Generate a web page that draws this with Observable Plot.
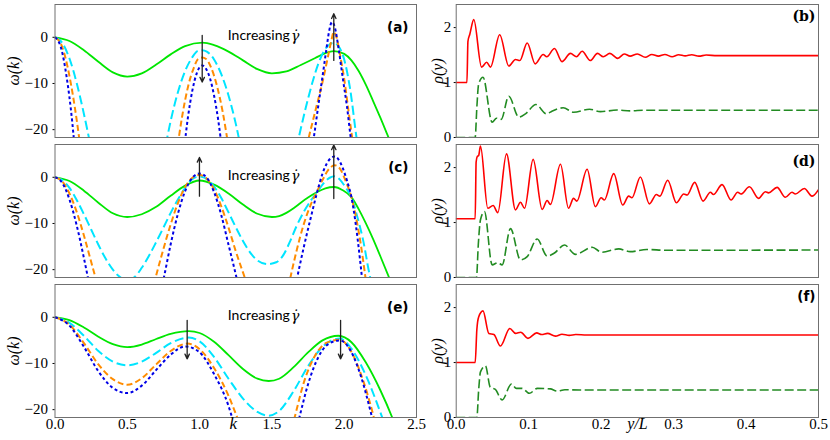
<!DOCTYPE html>
<html><head><meta charset="utf-8">
<script src="https://cdn.jsdelivr.net/npm/d3@7"></script>
<script src="https://cdn.jsdelivr.net/npm/@observablehq/plot@0.6"></script>
<style>
body{margin:0;background:#fff}
#wrap{position:relative;width:830px;height:440px;overflow:hidden;background:#fff}
#wrap svg{position:absolute;overflow:visible}
#wrap svg g[aria-label$="tick label"] text{font-family:"Liberation Serif","Times New Roman","DejaVu Serif",serif !important;font-size:15px !important}
</style>
</head><body><div id="wrap"></div>
<script>
// ---------- ticks ----------
const kTicks = [0, 0.5, 1, 1.5, 2, 2.5];
const omegaTicks = [-20, -10, 0];
const yTicks = [0, 0.1, 0.2, 0.3, 0.4, 0.5];
const rhoTicks = [0, 1, 2];

// ---------- panel (a): omega(k), segments [k, omega] ----------
const aGreen = [[[0,0],[0.1,-0.8],[0.2,-2.8],[0.3,-5.3],[0.4,-7.6],[0.5,-8.5],[0.6,-7.8],[0.7,-5.9],[0.8,-3.7],[0.9,-1.9],[1.02,-1.15],[1.1,-1.7],[1.2,-3.1],[1.3,-5.0],[1.4,-6.9],[1.5,-7.8],[1.6,-7.4],[1.7,-6.0],[1.8,-4.5],[1.85,-3.7],[1.93,-3.0],[2.0,-3.6],[2.05,-5.0],[2.1,-7.3],[2.15,-10.3],[2.2,-13.8],[2.25,-17.4],[2.3,-21.2],[2.35,-25]]];
const aCyan = [
 [[0,0],[0.05,-1.2],[0.1,-4.6],[0.15,-9.9],[0.2,-16.6],[0.25,-24.1]],
 [[0.75,-26.0],[0.8,-18.1],[0.85,-11.9],[0.9,-7.3],[0.95,-4.3],[0.985,-3.0],[1.018,-2.8],[1.05,-3.1],[1.1,-4.8],[1.15,-8.0],[1.2,-12.6],[1.25,-18.7],[1.3,-26.3]],
 [[1.67,-24],[1.686,-21.7],[1.73,-15.8],[1.78,-9.8],[1.82,-5.8],[1.86,-3.0],[1.9,-1.5],[1.928,-1.2],[1.96,-1.9],[2.0,-4.8],[2.04,-11.0],[2.085,-21.7],[2.1,-25]]
];
const aOrange = [
 [[0,0],[0.05,-2.1],[0.1,-8.4],[0.15,-17.9],[0.18,-24.9]],
 [[0.84,-25.3],[0.88,-17.0],[0.92,-10.7],[0.96,-6.6],[0.99,-4.7],[1.018,-4.4],[1.045,-4.7],[1.08,-6.6],[1.12,-10.5],[1.16,-16.2],[1.2,-23.8]],
 [[1.74,-23.7],[1.755,-21.7],[1.8,-16],[1.85,-9.7],[1.885,-4.6],[1.91,-0.9],[1.928,1.15],[1.945,0.2],[1.97,-3.6],[2.0,-9.0],[2.03,-16.0],[2.055,-21.7],[2.07,-25]]
];
const aBlue = [
 [[0,0],[0.04,-2.1],[0.08,-8.5],[0.12,-18.6],[0.14,-25.4]],
 [[0.89,-25.0],[0.92,-17.2],[0.95,-11.5],[0.98,-7.8],[1.0,-6.5],[1.018,-6.1],[1.04,-6.6],[1.07,-8.7],[1.1,-12.6],[1.13,-18.2],[1.16,-25.6]],
 [[1.775,-25],[1.79,-21.7],[1.82,-15],[1.85,-8.5],[1.875,-3],[1.895,1.2],[1.915,3.3],[1.935,2.2],[1.96,-2.2],[1.99,-8.8],[2.02,-15.2],[2.045,-21.7],[2.06,-25]]
];
const aArrows = [{x: 1.018, y1: 0.43, y2: -9.7}, {x: 1.928, y1: -5.0, y2: 5.1}];

// ---------- panel (c) ----------
const cGreen = [[[0,0],[0.1,-0.8],[0.2,-2.9],[0.3,-5.5],[0.4,-7.8],[0.5,-8.6],[0.6,-8.0],[0.7,-6.4],[0.8,-4.0],[0.9,-1.8],[1.0,-0.7],[1.1,-1.6],[1.2,-3.5],[1.3,-5.9],[1.4,-7.9],[1.5,-8.6],[1.55,-8.4],[1.6,-7.7],[1.65,-6.7],[1.7,-5.5],[1.75,-4.4],[1.813,-3.2],[1.87,-2.4],[1.93,-2.1],[1.99,-2.8],[2.05,-4.3],[2.1,-6.9],[2.15,-10.0],[2.2,-13.4],[2.25,-17.1],[2.3,-20.9],[2.35,-24.8]]];
const cCyan = [[[0,0],[0.05,-0.6],[0.1,-2.3],[0.15,-4.9],[0.2,-8.0],[0.25,-11.3],[0.3,-14.6],[0.35,-17.6],[0.4,-20.0],[0.45,-21.6],[0.5,-22.2],[0.55,-21.6],[0.6,-19.6],[0.65,-17.0],[0.7,-14.0],[0.75,-10.9],[0.8,-7.7],[0.85,-4.8],[0.9,-2.3],[0.94,-0.65],[1.0,0.2],[1.064,-0.7],[1.1,-2.0],[1.15,-4.5],[1.2,-7.6],[1.25,-10.8],[1.3,-13.8],[1.35,-16.3],[1.4,-18.0],[1.47,-18.8],[1.53,-18.4],[1.58,-16.8],[1.628,-13.7],[1.67,-10.6],[1.72,-7.5],[1.77,-5.0],[1.813,-3.2],[1.86,-1.2],[1.9,-0.1],[1.935,0.2],[1.97,-0.5],[2.01,-2.2],[2.05,-4.3],[2.09,-8.5],[2.13,-13.5],[2.18,-21.7],[2.2,-24]]];
const cOrange = [
 [[0,0],[0.05,-0.9],[0.1,-3.5],[0.15,-7.5],[0.2,-12.6],[0.25,-18.3],[0.3,-24]],
 [[0.65,-27],[0.7,-21.2],[0.75,-15.5],[0.8,-10.2],[0.85,-5.6],[0.9,-2.1],[0.95,-0.1],[1.0,0.5],[1.05,-0.3],[1.1,-2.6],[1.15,-6.3],[1.2,-10.9],[1.25,-16],[1.3,-20.6],[1.35,-25]],
 [[1.6,-25.8],[1.628,-21.7],[1.67,-16],[1.72,-10.2],[1.77,-5.8],[1.813,-3.0],[1.85,-0.6],[1.89,1.6],[1.935,2.6],[1.97,1.9],[2.01,-0.8],[2.05,-4.3],[2.09,-10],[2.12,-15.6],[2.147,-21.7],[2.17,-27]]
];
const cBlue = [
 [[0,0],[0.05,-1.2],[0.1,-4.8],[0.15,-10.4],[0.2,-17.5],[0.25,-25.3]],
 [[0.7,-29],[0.753,-21.7],[0.8,-14.5],[0.85,-7.9],[0.9,-3.0],[0.95,-0.1],[1.0,0.8],[1.05,-0.1],[1.1,-3.2],[1.15,-8.2],[1.2,-14.6],[1.255,-21.7],[1.3,-28]],
 [[1.64,-27],[1.675,-21.7],[1.72,-15.2],[1.77,-8.6],[1.813,-3.2],[1.85,0.8],[1.88,3.0],[1.91,4.2],[1.935,4.5],[1.96,3.9],[1.99,2.0],[2.02,-0.8],[2.05,-4.3],[2.08,-10.2],[2.11,-18],[2.14,-27]]
];
const cArrows = [{x: 0.999, y1: -4.1, y2: 4.3}, {x: 1.928, y1: -4.6, y2: 7.0}];

// ---------- panel (e) ----------
const eGreen = [[[0,0],[0.1,-0.6],[0.2,-2.2],[0.3,-4.2],[0.4,-5.8],[0.5,-6.45],[0.6,-5.9],[0.7,-4.7],[0.8,-3.6],[0.925,-3.0],[1.0,-3.4],[1.1,-5.3],[1.2,-8.2],[1.3,-11.2],[1.4,-13.3],[1.478,-13.8],[1.55,-13.3],[1.65,-10.8],[1.75,-7.6],[1.85,-5.0],[1.96,-4.0],[2.05,-5.4],[2.15,-9.8],[2.25,-15.8],[2.332,-21.7],[2.36,-24]]];
const eCyan = [[[0,0],[0.1,-1.2],[0.2,-4.0],[0.3,-7.3],[0.4,-9.6],[0.5,-10.4],[0.6,-9.6],[0.7,-7.7],[0.8,-5.6],[0.925,-4.4],[1.0,-5.2],[1.1,-8.6],[1.2,-13.3],[1.3,-17.6],[1.4,-20.5],[1.478,-21.3],[1.55,-20.3],[1.65,-16.0],[1.75,-10.6],[1.85,-6.4],[1.97,-4.6],[2.05,-6.8],[2.15,-12.6],[2.263,-21.7],[2.29,-24]]];
const eOrange = [
 [[0,0],[0.1,-1.6],[0.2,-5.6],[0.3,-10.2],[0.4,-13.4],[0.5,-14.6],[0.6,-13.2],[0.7,-10.2],[0.8,-7.3],[0.915,-5.7],[1.0,-6.9],[1.1,-11.0],[1.2,-17.0],[1.26,-21.7],[1.3,-25]],
 [[1.62,-26],[1.657,-21.7],[1.72,-14.2],[1.8,-8.2],[1.88,-5.5],[1.97,-4.85],[2.05,-7.5],[2.13,-13.6],[2.205,-21.7],[2.23,-25]]
];
const eBlue = [
 [[0,0],[0.1,-1.8],[0.2,-6.4],[0.3,-11.7],[0.4,-15.3],[0.5,-16.4],[0.6,-14.8],[0.7,-11.4],[0.8,-8.1],[0.9,-6.3],[1.0,-7.6],[1.1,-12.3],[1.2,-19.2],[1.225,-21.7],[1.26,-25]],
 [[1.66,-25.5],[1.69,-21.7],[1.75,-14.5],[1.82,-8.7],[1.89,-5.8],[1.97,-5.0],[2.04,-7.0],[2.12,-13.2],[2.193,-21.7],[2.22,-25]]
];
const eArrows = [{x: 0.914, y1: -0.65, y2: -9.0}, {x: 1.975, y1: -0.65, y2: -9.0}];

// ---------- right panels: rho(y), [y/L, rho] ----------
const bRed = [[0,1.0],[0.0148,1.0],[0.0162,1.75],[0.0188,1.88],[0.0243,2.145],[0.035,1.28],[0.042,1.37],[0.0473,1.28],[0.060,1.87],[0.0726,1.30],[0.0818,1.42],[0.0878,1.40],[0.098,1.72],[0.109,1.34],[0.12,1.51],[0.125,1.47],[0.1356,1.62],[0.146,1.38],[0.1577,1.53],[0.166,1.47],[0.1738,1.57],[0.185,1.40],[0.195,1.53],[0.203,1.47],[0.212,1.53],[0.223,1.44],[0.232,1.52],[0.24,1.48],[0.25,1.52],[0.261,1.46],[0.27,1.51],[0.279,1.48],[0.288,1.51],[0.298,1.47],[0.307,1.505],[0.316,1.485],[0.325,1.505],[0.335,1.48],[0.345,1.5],[0.36,1.49],[0.5,1.49]];
const bGreen = [[0,0],[0.0262,0],[0.0285,0.55],[0.031,0.976],[0.037,1.097],[0.0496,0.279],[0.0556,0.35],[0.062,0.33],[0.0726,0.75],[0.0864,0.37],[0.0956,0.43],[0.110,0.60],[0.1246,0.43],[0.131,0.47],[0.1476,0.54],[0.162,0.46],[0.184,0.515],[0.199,0.47],[0.222,0.50],[0.24,0.485],[0.26,0.497],[0.5,0.497]];
const dRed = [[0,1.07],[0.0262,1.07],[0.0275,2.1],[0.029,2.2],[0.031,2.22],[0.0335,2.39],[0.0436,1.26],[0.051,1.31],[0.0574,1.18],[0.0694,2.25],[0.0818,1.23],[0.0887,1.37],[0.0943,1.26],[0.1062,2.15],[0.1186,1.24],[0.1255,1.40],[0.13,1.33],[0.1439,2.06],[0.155,1.26],[0.162,1.44],[0.1665,1.39],[0.1807,1.97],[0.192,1.29],[0.2,1.45],[0.2045,1.41],[0.2174,1.89],[0.2298,1.32],[0.238,1.48],[0.2425,1.45],[0.2542,1.83],[0.2666,1.34],[0.2763,1.51],[0.281,1.48],[0.2919,1.77],[0.3039,1.36],[0.314,1.52],[0.3186,1.50],[0.3291,1.73],[0.3407,1.39],[0.3508,1.55],[0.355,1.51],[0.3669,1.69],[0.3793,1.41],[0.3885,1.55],[0.393,1.52],[0.4046,1.65],[0.4174,1.44],[0.4266,1.56],[0.431,1.54],[0.4428,1.64],[0.4543,1.46],[0.4634,1.55],[0.468,1.52],[0.4804,1.62],[0.491,1.48],[0.5,1.60]];
const dGreen = [[0,0],[0.028,0],[0.0305,0.6],[0.0335,1.05],[0.039,1.2],[0.0496,0.23],[0.0574,0.27],[0.0634,0.23],[0.0749,0.89],[0.0887,0.32],[0.098,0.38],[0.1117,0.70],[0.1255,0.39],[0.135,0.44],[0.1494,0.59],[0.1646,0.42],[0.1876,0.55],[0.201,0.46],[0.2243,0.52],[0.24,0.47],[0.263,0.51],[0.29,0.495],[0.5,0.5]];
const fRed = [[0,1.0],[0.0262,1.0],[0.0285,1.6],[0.031,1.83],[0.037,1.94],[0.045,1.53],[0.052,1.51],[0.061,1.30],[0.074,1.62],[0.082,1.53],[0.089,1.55],[0.099,1.44],[0.111,1.54],[0.118,1.51],[0.126,1.53],[0.137,1.48],[0.146,1.515],[0.156,1.495],[0.165,1.51],[0.18,1.5],[0.5,1.5]];
const fGreen = [[0,0],[0.0285,0],[0.031,0.5],[0.0335,0.83],[0.0404,0.94],[0.047,0.55],[0.054,0.51],[0.0634,0.32],[0.0763,0.61],[0.083,0.53],[0.091,0.53],[0.101,0.44],[0.112,0.53],[0.13,0.52],[0.139,0.48],[0.15,0.505],[0.17,0.5],[0.5,0.5]];

// ---------- drawing ----------
const wrap = document.getElementById("wrap");
const SERIF = "Liberation Serif, Times New Roman, DejaVu Serif, serif";
const baseStyle = "background: transparent; overflow: visible; font-family: 'Liberation Serif', 'DejaVu Serif', serif; font-size: 15px; color: #000;";
const T = (s, o) => Plot.text([s], {text: d => d, ...o});
const FRAME_H = 133;
const fmtInt = d => String(d).replace("-", "\u2212");

function segLines(segs, o) {
  return segs.map(s => Plot.line(s, {x: d => d[0], y: d => d[1], curve: "monotone-x", clip: true, strokeLinecap: "butt", ...o}));
}

function leftPanel(p) {
  const mb = p.bottom ? 23 : 3;
  const marks = [
    ...segLines(p.green, {stroke: "#00e600", strokeWidth: 1.8}),
    ...segLines(p.cyan, {stroke: "#00e5ff", strokeWidth: 2, strokeDasharray: "9,4"}),
    ...segLines(p.orange, {stroke: "#ff8c00", strokeWidth: 2, strokeDasharray: "6,3.2"}),
    ...segLines(p.blue, {stroke: "#0000e6", strokeWidth: 2, strokeDasharray: "3,2.6"}),
    Plot.arrow(p.arrows, {x1: "x", x2: "x", y1: "y1", y2: "y2", stroke: "#222", strokeWidth: 1.3, headLength: 6, headAngle: 50}),
    T("Increasing", {x: 1.195, y: 0.39, textAnchor: "start", lineAnchor: "middle", fontFamily: "Lato", fontSize: 14}),
    T("γ\u0307", {x: 1.632, y: 0.39, dy: 1, textAnchor: "start", lineAnchor: "middle", fontFamily: "DejaVu Serif", fontStyle: "italic", fontSize: 14}),
    T(p.tag, {frameAnchor: "top-right", dx: -8, dy: p.tagDy, textAnchor: "end", lineAnchor: "middle", fontFamily: "DejaVu Sans", fontWeight: "bold", fontSize: 13.5}),
    Plot.frame({stroke: "#707070", strokeWidth: 1}),
    Plot.axisY(omegaTicks, {tickSize: 2, tickPadding: 5, tickFormat: fmtInt, label: null}),
    T("ω(k)", {frameAnchor: "left", dx: -41.5, rotate: -90, textAnchor: "middle", lineAnchor: "middle", fontStyle: "italic", fontSize: 16, fontFamily: SERIF})
  ];
  if (p.bottom) {
    marks.push(Plot.axisX(kTicks, {tickFormat: d3.format(".1f"), tickSize: 0, tickPadding: 1, label: null}));
    marks.push(T("k", {x: 1.233, frameAnchor: "bottom", dy: 6.5, textAnchor: "middle", lineAnchor: "middle", fontStyle: "italic", fontSize: 17, fontFamily: SERIF}));
  }
  const svg = Plot.plot({
    width: 430, height: 4 + FRAME_H + mb,
    marginLeft: 54.5, marginRight: 14, marginTop: 4, marginBottom: mb,
    x: p.bottom ? {domain: [0, 2.5]} : {domain: [0, 2.5], axis: null},
    y: {domain: [-21.7, 7.1]},
    style: baseStyle,
    marks
  });
  svg.style.left = "0px";
  svg.style.top = p.top + "px";
  wrap.appendChild(svg);
}

function rightPanel(p) {
  const mb = p.bottom ? 23 : 3;
  const marks = [
    Plot.line(p.green, {x: d => d[0], y: d => d[1], curve: "monotone-x", clip: true, stroke: "#228b22", strokeWidth: 1.6, strokeDasharray: "9,3.5", strokeLinecap: "butt"}),
    Plot.line(p.red, {x: d => d[0], y: d => d[1], curve: "monotone-x", clip: true, stroke: "#ff0000", strokeWidth: 1.6}),
    T(p.tag, {frameAnchor: "top-right", dx: -3, dy: p.tagDy, textAnchor: "end", lineAnchor: "middle", fontFamily: p.tagFont, fontWeight: "bold", fontSize: p.tagSize}),
    Plot.frame({stroke: "#707070", strokeWidth: 1}),
    Plot.axisY(rhoTicks, {tickSize: 2, tickPadding: 3, tickFormat: fmtInt, label: null}),
    T("ρ(y)", {frameAnchor: "left", dx: -18, rotate: -90, textAnchor: "middle", lineAnchor: "middle", fontStyle: "italic", fontSize: 16, fontFamily: SERIF})
  ];
  if (p.bottom) {
    marks.push(Plot.axisX(yTicks, {tickFormat: d3.format(".1f"), tickSize: 0, tickPadding: 1, label: null}));
    marks.push(T("y/L", {x: 0.25, frameAnchor: "bottom", dy: 6.5, textAnchor: "middle", lineAnchor: "middle", fontStyle: "italic", fontSize: 16, fontFamily: SERIF}));
  }
  const svg = Plot.plot({
    width: 400, height: 4 + FRAME_H + mb,
    marginLeft: 25.7, marginRight: 12, marginTop: 4, marginBottom: mb,
    x: p.bottom ? {domain: [0, 0.5]} : {domain: [0, 0.5], axis: null},
    y: {domain: [0, 2.42]},
    style: baseStyle,
    marks
  });
  svg.style.left = "430px";
  svg.style.top = p.top + "px";
  wrap.appendChild(svg);
}

leftPanel({green: aGreen, cyan: aCyan, orange: aOrange, blue: aBlue, arrows: aArrows, tag: "(a)", tagDy: 23.5, top: 0});
leftPanel({green: cGreen, cyan: cCyan, orange: cOrange, blue: cBlue, arrows: cArrows, tag: "(c)", tagDy: 23, top: 140});
leftPanel({green: eGreen, cyan: eCyan, orange: eOrange, blue: eBlue, arrows: eArrows, tag: "(e)", tagDy: 23, top: 280, bottom: true});
rightPanel({red: bRed, green: bGreen, tag: "(b)", tagDy: 12, tagFont: "DejaVu Serif", tagSize: 14, top: 0});
rightPanel({red: dRed, green: dGreen, tag: "(d)", tagDy: 17, tagFont: "DejaVu Serif", tagSize: 14, top: 140});
rightPanel({red: fRed, green: fGreen, tag: "(f)", tagDy: 12, tagFont: "DejaVu Sans", tagSize: 13.5, top: 280, bottom: true});
</script>
</body></html>
